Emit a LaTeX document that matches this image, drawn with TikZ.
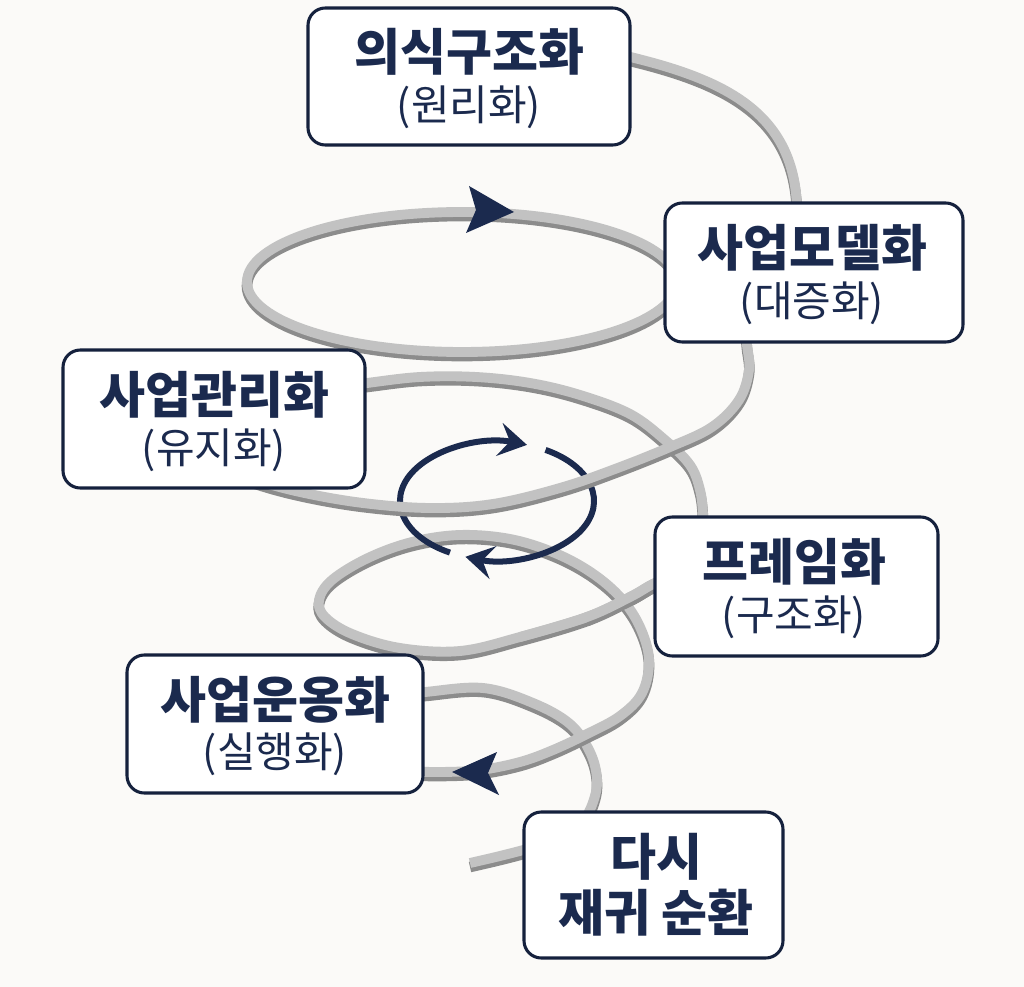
\documentclass[tikz,border=0pt]{standalone}
\usepackage{fontspec}
\newfontfamily\kr{Noto Sans CJK KR}
\usetikzlibrary{arrows.meta}
\definecolor{navy}{HTML}{1B2A4E}
\definecolor{boxline}{HTML}{15213D}
\definecolor{bgc}{HTML}{FBFAF8}
\definecolor{coillt}{HTML}{C2C2C2}
\definecolor{coildk}{HTML}{8C8C8C}
\tikzset{
  coildkstyle/.style={draw=coildk, line width=8pt, yshift=-3pt},
  coilltstyle/.style={draw=coillt, line width=7.4pt},
  boxst/.style={draw=boxline, line width=2.3pt, fill=white, rounded corners=13pt, inner sep=0pt},
  ttl/.style={font=\kr\bfseries\fontsize{37.5}{42}\selectfont, text=navy, inner sep=0pt},
  subt/.style={font=\kr\fontsize{31.5}{36}\selectfont, text=navy, inner sep=0pt},
  navyarr/.style={draw=navy, line width=4.5pt, -{Stealth[length=21pt, width=25pt, inset=8pt]}},
  headfill/.style={fill=navy}
}
\newcommand\coilseg[1]{%
  \draw[coildkstyle] #1;
  \draw[coilltstyle] #1;}
\begin{document}
\begin{tikzpicture}[x=0.75pt, y=-0.75pt]
\useasboundingbox (0,0) rectangle (1024,987);
\fill[bgc] (0,0) rectangle (1024,987);

% back arc from frame-box side (arc 4)
\coilseg{plot[smooth, tension=0.6] coordinates {(330,388) (367,383) (420,377) (476,377) (530,383) (580,395) (630,414) (665,440) (690,465) (700,490) (703,515) (703,540)}}
% arc 6 (to the last box)
\coilseg{plot[smooth, tension=0.6] coordinates {(395,695) (425,692) (483,688) (533,703) (570,724) (590,752) (597,780) (592,805) (578,832)}}
% tail
\coilseg{plot[smooth, tension=0.6] coordinates {(555,841) (527,849) (500,856) (470,863)}}
% second loop (full)
\coilseg{plot[smooth, tension=0.6] coordinates {(680,572) (653,584) (630,597) (587,617) (520,637) (460,651) (400,648) (352,634) (325,617) (319,600) (332,580) (368,558) (412,542) (460,535) (510,539) (555,553) (592,573) (621,598) (640,627) (649,660) (642,693) (620,716) (587,734) (553,750) (520,762) (480,770) (440,772) (400,771)}}
% front part redrawn on top of the crossing
\draw[coildkstyle] plot[smooth, tension=0.6] coordinates {(680,572) (653,584) (630,597) (587,617)};
\draw[coilltstyle] plot[smooth, tension=0.6] coordinates {(680,572) (653,584) (630,597) (587,617) (520,637)};
\fill[headfill] (452,772) -- (497,752) -- (488,773) -- (499,795) -- cycle;

% navy circular arrows
\draw[navyarr] (497,501) ++(241:72.75pt and 44.25pt) arc[start angle=241, end angle=72, x radius=72.75pt, y radius=44.25pt];
\draw[navyarr] (497,501) ++(60:72.75pt and 44.25pt) arc[start angle=60, end angle=-109, x radius=72.75pt, y radius=44.25pt];

% arc 3 (front, over the circle)
\coilseg{plot[smooth, tension=0.6] coordinates {(745,325) (747,345) (749,370) (739,400) (712,427) (670,447) (615,469) (560,488) (493,504) (430,508) (363,503) (300,492) (250,478) (215,462)}}

% first loop
\coilseg{(462,282) ellipse [x radius=161.25pt, y radius=52.5pt]}
\fill[headfill] (514,212) -- (469,186) -- (476,210) -- (466,233) -- cycle;

% top segment
\coilseg{(622,55) .. controls (720,78) and (798,110) .. (797,215)}

% boxes
\node[boxst, minimum width=241.5pt, minimum height=102.75pt] (b1) at (469,76.5) {};
\node[boxst, minimum width=223.5pt, minimum height=104.25pt] (b2) at (814,272.5) {};
\node[boxst, minimum width=226.5pt, minimum height=103.5pt] (b3) at (214,419) {};
\node[boxst, minimum width=212.25pt, minimum height=104.25pt] (b4) at (796.5,586.5) {};
\node[boxst, minimum width=222pt, minimum height=103.5pt] (b5) at (275,724) {};
\node[boxst, minimum width=194.25pt, minimum height=109.5pt] (b6) at (653.5,885) {};

% texts
\node[ttl] (t1) at (469,52) {의식구조화};
\node[subt] (s1) at (469,107) {(원리화)};
\node[ttl] (t2) at (812,248) {사업모델화};
\node[subt] (s2) at (812,303) {(대증화)};
\node[ttl] (t3) at (214,395) {사업관리화};
\node[subt] (s3) at (214,450) {(유지화)};
\node[ttl] (t4) at (794,562) {프레임화};
\node[subt] (s4) at (794,617) {(구조화)};
\node[ttl] (t5) at (275,700) {사업운옹화};
\node[subt] (s5) at (275,754) {(실행화)};
\node[ttl] (t6) at (656,857) {다시};
\node[ttl] (s6) at (656,913) {재귀 순환};
\end{tikzpicture}
\end{document}
